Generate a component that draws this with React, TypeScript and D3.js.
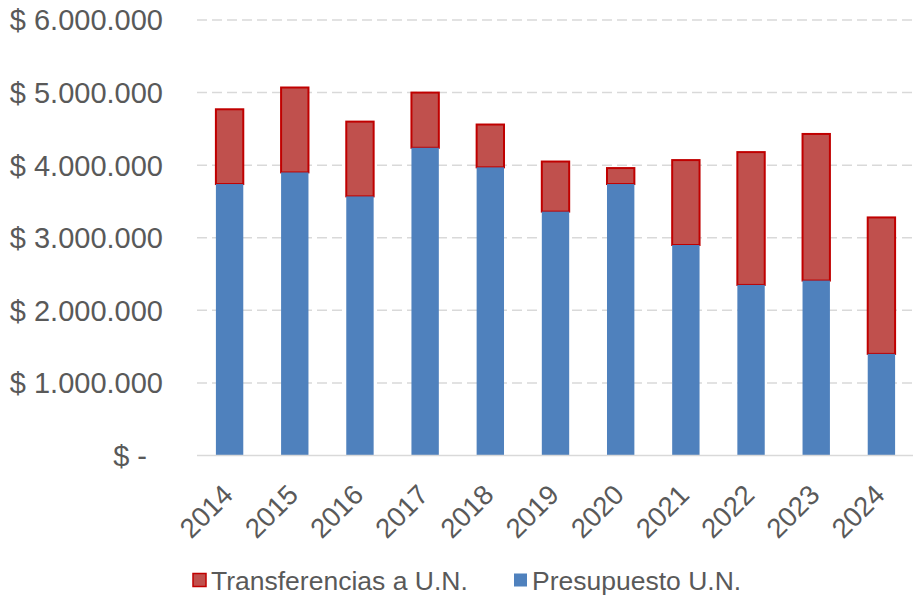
import React, { useEffect, useRef } from 'react';
import * as d3 from 'd3';

const years = ['2014', '2015', '2016', '2017', '2018', '2019', '2020', '2021', '2022', '2023', '2024'];
const presupuesto = [3740000, 3900000, 3570000, 4240000, 3970000, 3360000, 3740000, 2900000, 2350000, 2410000, 1400000];
const transferencias = [1030000, 1170000, 1030000, 760000, 590000, 690000, 220000, 1170000, 1830000, 2020000, 1880000];
const yTicks = [0, 1000000, 2000000, 3000000, 4000000, 5000000, 6000000];
const seriesNames = ['Transferencias a U.N.', 'Presupuesto U.N.'];

const W = 914;
const H = 595;
const FONT = '"Liberation Sans", Arial, sans-serif';
const TEXT = '#595959';
const GRID = '#D9D9D9';

const App: React.FC = () => {
  const svgRef = useRef<SVGSVGElement>(null);

  useEffect(() => {
    if (!svgRef.current) return;
    const svg = d3.select(svgRef.current);
    svg.selectAll('*').remove();

    const left = 197;
    const right = 914;
    const top = 20;
    const bottom = 455.5;

    const x = d3.scaleBand<string>()
      .domain(years)
      .range([left, right])
      .paddingInner(0.58)
      .paddingOuter(0.29);

    const y = d3.scaleLinear()
      .domain([0, 6000000])
      .range([bottom, top]);

    const fmt = (v: number) => v === 0 ? '$ -' : '$ ' + d3.format(',')(v).replace(/,/g, '.');

    // gridlines
    svg.append('g')
      .selectAll('line')
      .data(yTicks.filter(t => t > 0))
      .enter()
      .append('line')
      .attr('x1', left)
      .attr('x2', right - 1)
      .attr('y1', d => y(d))
      .attr('y2', d => y(d))
      .attr('stroke', GRID)
      .attr('stroke-width', 1.5)
      .attr('stroke-dasharray', '10,5');

    // y labels
    svg.append('g')
      .selectAll('text')
      .data(yTicks)
      .enter()
      .append('text')
      .attr('x', d => d === 0 ? 147 : 163)
      .attr('y', d => y(d))
      .attr('dy', '0.36em')
      .attr('text-anchor', 'end')
      .style('font-family', FONT)
      .style('font-size', '29px')
      .attr('fill', TEXT)
      .text(d => fmt(d));

    // stacked bars
    const rows = years.map((yr, i) => ({ year: yr, pres: presupuesto[i], trans: transferencias[i] }));
    const stack = d3.stack<any>().keys(['pres', 'trans']);
    const layers = stack(rows);

    // red segment (top)
    svg.append('g')
      .selectAll('rect')
      .data(layers[1])
      .enter()
      .append('rect')
      .attr('x', d => x(d.data.year)!)
      .attr('width', x.bandwidth())
      .attr('y', d => y(d[1]))
      .attr('height', d => y(d[0]) - y(d[1]))
      .attr('fill', '#C0504D')
      .attr('stroke', '#C00000')
      .attr('stroke-width', 2);

    // blue segment (bottom)
    svg.append('g')
      .selectAll('rect')
      .data(layers[0])
      .enter()
      .append('rect')
      .attr('x', d => x(d.data.year)!)
      .attr('width', x.bandwidth())
      .attr('y', d => y(d[1]))
      .attr('height', d => y(d[0]) - y(d[1]))
      .attr('fill', '#4F81BD');

    // x axis line
    svg.append('line')
      .attr('x1', left)
      .attr('x2', right - 1)
      .attr('y1', bottom)
      .attr('y2', bottom)
      .attr('stroke', GRID)
      .attr('stroke-width', 1.5);

    // x labels rotated
    svg.append('g')
      .selectAll('text')
      .data(years)
      .enter()
      .append('text')
      .attr('transform', d => `translate(${x(d)! + x.bandwidth() / 2 + 5},${bottom + 41}) rotate(-45)`)
      .attr('text-anchor', 'end')
      .style('font-family', FONT)
      .style('font-size', '27.5px')
      .attr('fill', TEXT)
      .text(d => d);

    // legend
    const legendItems = [
      { name: seriesNames[0], fill: '#C0504D', stroke: '#C00000', x: 193 },
      { name: seriesNames[1], fill: '#4F81BD', stroke: 'none', x: 514 },
    ];
    const legend = svg.append('g').attr('transform', 'translate(0,580)');
    const item = legend.selectAll('g')
      .data(legendItems)
      .enter()
      .append('g')
      .attr('transform', d => `translate(${d.x},0)`);

    item.append('rect')
      .attr('x', 0)
      .attr('y', -6.5)
      .attr('width', 13)
      .attr('height', 13)
      .attr('fill', d => d.fill)
      .attr('stroke', d => d.stroke)
      .attr('stroke-width', 1.5);

    item.append('text')
      .attr('x', 18)
      .attr('y', 0)
      .attr('dy', '0.36em')
      .style('font-family', FONT)
      .style('font-size', '26.5px')
      .attr('fill', TEXT)
      .text(d => d.name);
  }, []);

  return (
    <svg
      ref={svgRef}
      width={W}
      height={H}
      style={{ position: 'absolute', left: 0, top: 0, background: '#fff' }}
    ></svg>
  );
};

export default App;
